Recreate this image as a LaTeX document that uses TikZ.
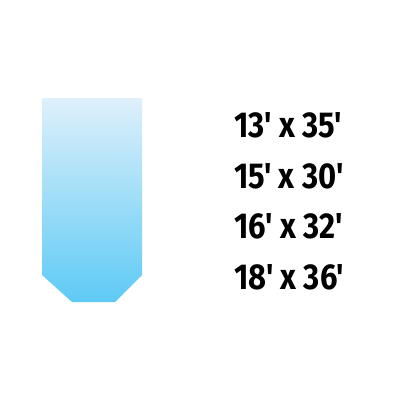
\documentclass[tikz,border=0pt]{standalone}
\usepackage{fontspec}
\newfontfamily\labfont{Fira Sans}[Ligatures=TeXOff]
\definecolor{toptint}{RGB}{222,240,251}
\definecolor{bottint}{RGB}{94,202,245}
\tikzset{sizelabel/.style={anchor=base west,inner sep=0pt,xscale=0.86,font=\labfont\fontsize{36}{38}\selectfont\bfseries,text=black}}
\begin{document}
\begin{tikzpicture}[x=1pt,y=-1pt]
\useasboundingbox[fill=white] (0,0) rectangle (400,400);
\shade[top color=toptint,bottom color=bottint] (42,98) -- (142,98) -- (142,275) -- (115,302) -- (72,302) -- (42,275) -- cycle;
\node[sizelabel] (s1) at (234,137) {13' x 35'};
\node[sizelabel] (s2) at (234,188) {15' x 30'};
\node[sizelabel] (s3) at (234,238) {16' x 32'};
\node[sizelabel] (s4) at (234,289) {18' x 36'};
\end{tikzpicture}
\end{document}
